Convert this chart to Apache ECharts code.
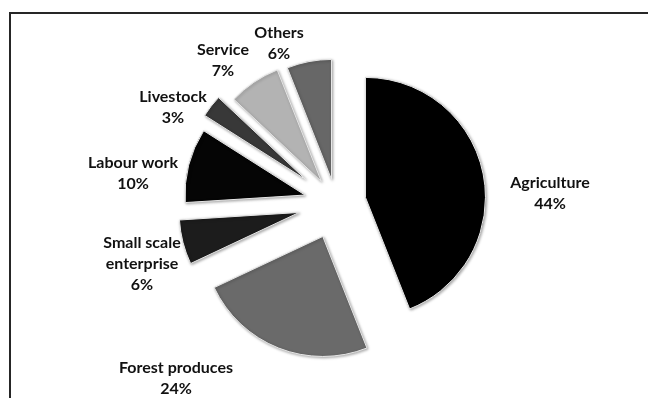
<!DOCTYPE html>
<html lang="en">
<head>
    <meta charset="utf-8">
    <title>Income sources</title>
    <style>
        html, body { margin: 0; padding: 0; background: #fff; }
        #frame { position: absolute; left: 9px; top: 12px; right: 0; bottom: 0;
                 border-top: 2px solid #262626; border-left: 2px solid #262626; }
        #main { position: absolute; left: 0; top: 0; width: 648px; height: 398px; }
    </style>
</head>
<body>
<div id="frame"></div>
<div id="main"></div>

<script src="https://cdn.jsdelivr.net/npm/echarts@6/dist/echarts.min.js"></script>
<script type="text/javascript">
    // share of households by main income source (%), clockwise from 12 o'clock
    var categories = ['Agriculture', 'Forest produces', 'Small scale\nenterprise', 'Labour work', 'Livestock', 'Service', 'Others'];
    var shares = [44, 24, 6, 10, 3, 7, 6];

    // styling / layout
    var sliceColors = ['#000000', '#6a6a6a', '#1c1c1c', '#050505', '#383838', '#b3b3b3', '#676767'];
    var explode = [30, 36, 38, 32, 38, 26, 24];
    var labelPos = [[550, 193], [176, 378], [142, 264], [133, 173], [173, 107], [223, 60], [279, 43]];
    var pieCenter = [336, 203];
    var pieRadius = 120;

    var myChart = echarts.init(document.getElementById('main'));

    var total = shares.reduce(function (a, b) { return a + b; }, 0);
    var series = [];
    var acc = 0;
    shares.forEach(function (v, i) {
        // each slice is its own pie, pushed out along its middle angle
        var mid = (acc + v / 2) / total * 2 * Math.PI;
        acc += v;
        series.push({
            type: 'pie',
            center: [pieCenter[0] + explode[i] * Math.sin(mid), pieCenter[1] - explode[i] * Math.cos(mid)],
            radius: pieRadius,
            startAngle: 90,
            clockwise: true,
            animation: false,
            silent: true,
            avoidLabelOverlap: false,
            percentPrecision: 0,
            data: categories.map(function (name, j) {
                return {
                    name: name,
                    value: shares[j],
                    itemStyle: j === i ? {
                        color: sliceColors[j],
                        borderColor: '#e6e6e6',
                        borderWidth: 1,
                        shadowBlur: 3,
                        shadowOffsetX: 1,
                        shadowOffsetY: 1,
                        shadowColor: 'rgba(0,0,0,0.35)'
                    } : { color: 'rgba(0,0,0,0)', borderWidth: 0 },
                    label: { show: j === i }
                };
            }),
            label: {
                position: 'outside',
                formatter: '{b}\n{d}%',
                fontFamily: 'Lato',
                fontWeight: 'bold',
                fontSize: 16,
                lineHeight: 21,
                color: '#111',
                align: 'center'
            },
            labelLine: { show: false },
            labelLayout: {
                x: labelPos[i][0],
                y: labelPos[i][1],
                align: 'center',
                verticalAlign: 'middle'
            }
        });
    });

    myChart.setOption({
        backgroundColor: 'transparent',
        series: series
    });
</script>
</body>
</html>
